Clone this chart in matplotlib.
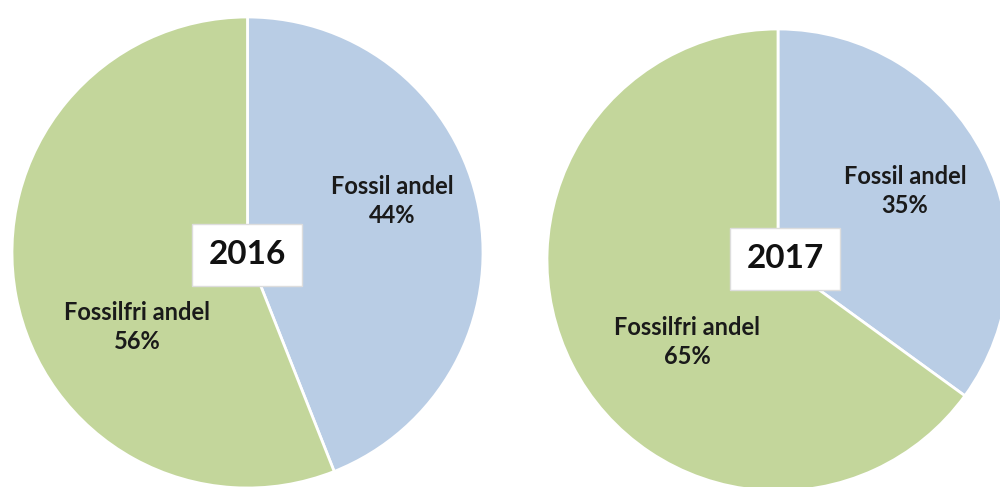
import matplotlib
matplotlib.use("Agg")
import matplotlib.pyplot as plt

years = ["2016", "2017"]
categories = ["Fossil andel", "Fossilfri andel"]
values_2016 = [44, 56]
values_2017 = [35, 65]
colors = ["#B9CDE5", "#C3D69B"]

W, H = 1000, 487
fig = plt.figure(figsize=(W / 100, H / 100), dpi=100)
ax = fig.add_axes([0, 0, 1, 1])
ax.set_xlim(0, W)
ax.set_ylim(0, H)
ax.set_aspect("equal")
ax.axis("off")

font = ["Lato", "DejaVu Sans"]

pies = [
    dict(year=years[0], vals=values_2016, center=(247.5, H - 252.5), r=235.5,
         label_pos=[(392, 201), (137, 327)], box=(247, H - 255)),
    dict(year=years[1], vals=values_2017, center=(778, H - 260), r=231,
         label_pos=[(905, 191), (687, 342)], box=(785, H - 259)),
]

for p in pies:
    ax.pie(p["vals"], colors=colors, startangle=90, counterclock=False,
           center=p["center"], radius=p["r"],
           wedgeprops=dict(edgecolor="white", linewidth=2))
    for cat, v, (x, y) in zip(categories, p["vals"], p["label_pos"]):
        ax.text(x, H - y, f"{cat}\n{v}%", ha="center", va="center",
                fontsize=17, fontweight="bold", family=font, color="#1a1a1a",
                linespacing=1.35)
    bx, by = p["box"]
    ax.text(bx, by, p["year"], ha="center", va="center", fontsize=24,
            fontweight="bold", family=font, color="#111111",
            bbox=dict(boxstyle="square,pad=0.5", facecolor="white",
                      edgecolor="#dddddd", linewidth=1))

ax.set_xlim(0, W)
ax.set_ylim(0, H)
fig.savefig("out.png", dpi=100)
